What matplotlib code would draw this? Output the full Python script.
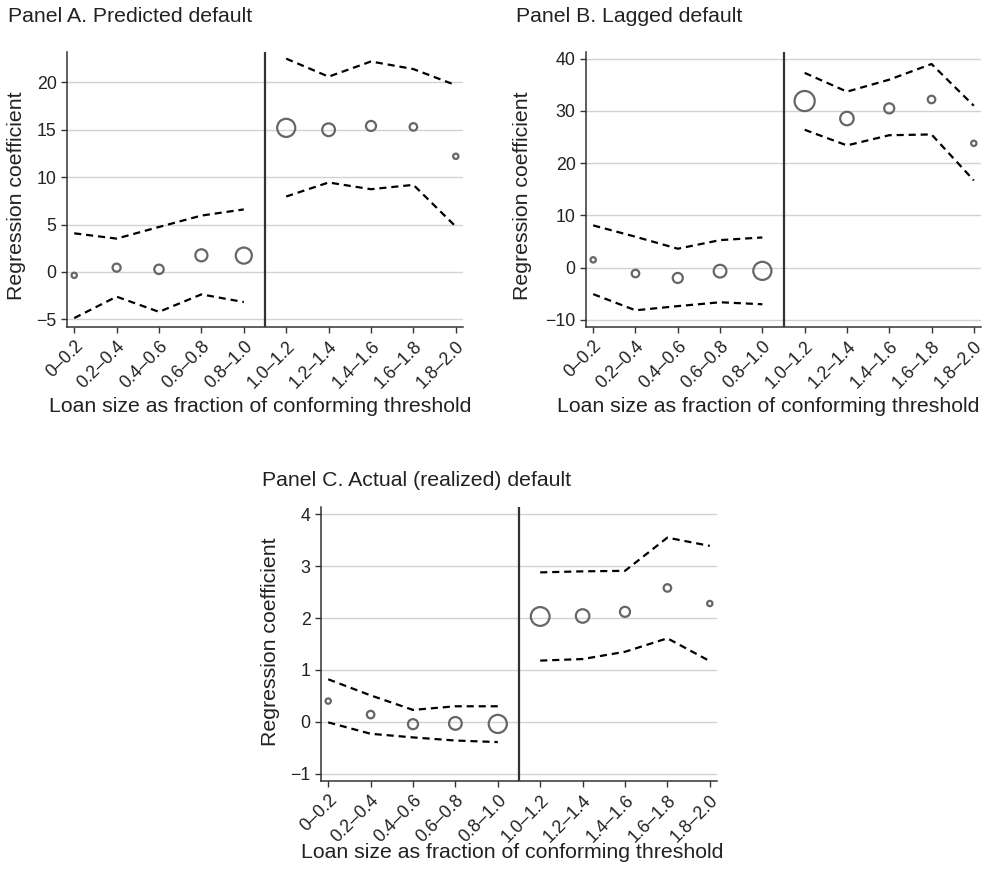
import matplotlib
matplotlib.use("Agg")
import matplotlib.pyplot as plt

plt.rcParams["font.family"] = ["Liberation Sans", "DejaVu Sans"]

# ── data ─────────────────────────────────────────────────────────
BINS = ["0–0.2", "0.2–0.4", "0.4–0.6", "0.6–0.8", "0.8–1.0",
        "1.0–1.2", "1.2–1.4", "1.4–1.6", "1.6–1.8", "1.8–2.0"]

a_coef  = [-0.35, 0.46, 0.28, 1.76, 1.73, 15.2, 15.0, 15.4, 15.3, 12.2]
a_upper = [4.08, 3.52, 4.75, 5.95, 6.6, 22.5, 20.6, 22.2, 21.4, 19.7]
a_lower = [-4.86, -2.6, -4.2, -2.36, -3.17, 7.96, 9.44, 8.73, 9.19, 4.79]
a_wt    = [7, 16, 22, 36, 64, 81, 40, 25, 14, 7]

b_coef  = [1.47, -1.15, -2.0, -0.7, -0.64, 31.9, 28.55, 30.5, 32.2, 23.8]
b_upper = [8.07, 5.9, 3.6, 5.25, 5.76, 37.3, 33.7, 36.0, 39.0, 31.0]
b_lower = [-5.1, -8.2, -7.4, -6.66, -7.04, 26.4, 23.4, 25.35, 25.5, 16.7]
b_wt    = [7, 14, 25, 40, 81, 100, 45, 25, 14, 7]

c_coef  = [0.40, 0.14, -0.045, -0.03, -0.04, 2.03, 2.04, 2.12, 2.58, 2.28]
c_upper = [0.82, 0.51, 0.23, 0.30, 0.30, 2.88, 2.90, 2.91, 3.55, 3.39]
c_lower = [-0.01, -0.23, -0.30, -0.36, -0.39, 1.18, 1.21, 1.35, 1.61, 1.17]
c_wt    = [7, 14, 25, 40, 81, 87, 45, 25, 14, 7]

W, H = 985, 875
TXT = "#222222"

fig = plt.figure(figsize=(W / 100, H / 100), dpi=100)
fig.patch.set_facecolor("white")


def px_box(left, top, right, bottom):
    return [left / W, 1 - bottom / H, (right - left) / W, (bottom - top) / H]


def panel(box, coef, upper, lower, wt, ylim, yticks):
    ax = fig.add_axes(px_box(*box))
    x = list(range(len(BINS)))
    ax.set_xlim(-0.17, 9.17)
    ax.set_ylim(*ylim)
    ax.set_yticks(yticks)
    ax.set_xticks(x)
    ax.set_xticklabels(BINS, rotation=45, ha="right", va="top",
                       rotation_mode="anchor")
    ax.yaxis.grid(True, color="#d2d2d2", linewidth=1.0)
    ax.set_axisbelow(True)
    for s in ("top", "right"):
        ax.spines[s].set_visible(False)
    for s in ("left", "bottom"):
        ax.spines[s].set_color("#333333")
        ax.spines[s].set_linewidth(1.1)
    ax.tick_params(direction="out", length=4, width=1, color="#333333",
                   labelsize=12.8, labelcolor=TXT)

    ax.axvline(4.5, color="#333333", linewidth=1.6)
    dash = (0, (3.2, 2.2))
    for band in (upper, lower):
        ax.plot(x[:5], band[:5], color="black", linewidth=1.6, linestyle=dash)
        ax.plot(x[5:], band[5:], color="black", linewidth=1.6, linestyle=dash)
    ax.scatter(x, coef, s=[2.1 * w for w in wt], facecolors="none",
               edgecolors="#666666", linewidths=1.6, zorder=3)
    return ax


panel((67, 52, 463, 327), a_coef, a_upper, a_lower, a_wt,
      (-5.8, 23.2), [-5, 0, 5, 10, 15, 20])
panel((586, 52, 981, 327), b_coef, b_upper, b_lower, b_wt,
      (-11.4, 41.3), [-10, 0, 10, 20, 30, 40])
panel((321, 507, 717, 781), c_coef, c_upper, c_lower, c_wt,
      (-1.14, 4.14), [-1, 0, 1, 2, 3, 4])

# ── titles and axis labels ───────────────────────────────────────
FS = 15.3
titles = [("Panel A. Predicted default", 8, 22),
          ("Panel B. Lagged default", 516, 22),
          ("Panel C. Actual (realized) default", 262, 486)]
for t, xp, yp in titles:
    fig.text(xp / W, 1 - yp / H, t, fontsize=FS, color=TXT,
             ha="left", va="baseline")

XLAB = "Loan size as fraction of conforming threshold"
for xp, yp in [(260, 412), (768, 412), (512, 858)]:
    fig.text(xp / W, 1 - yp / H, XLAB, fontsize=FS, color=TXT,
             ha="center", va="baseline")

YLAB = "Regression coefficient"
for xp, yp in [(17, 196), (522, 196), (271, 642)]:
    fig.text(xp / W, 1 - yp / H, YLAB, fontsize=FS, color=TXT,
             ha="center", va="center", rotation=90)

plt.savefig("out.png", dpi=100, facecolor=fig.get_facecolor())
plt.close()
